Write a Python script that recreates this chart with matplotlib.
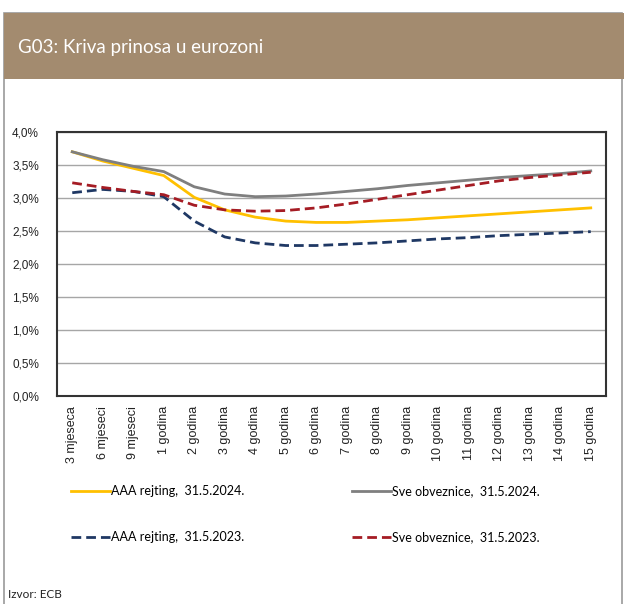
import matplotlib.pyplot as plt
from matplotlib.patches import Rectangle
from matplotlib.ticker import FuncFormatter, MultipleLocator

categories = ['3 mjeseca', '6 mjeseci', '9 mjeseci', '1 godina', '2 godina', '3 godina',
              '4 godina', '5 godina', '6 godina', '7 godina', '8 godina', '9 godina',
              '10 godina', '11 godina', '12 godina', '13 godina', '14 godina', '15 godina']

aaa_2024 = [3.70, 3.56, 3.45, 3.34, 3.01, 2.82, 2.71, 2.65, 2.63, 2.63, 2.65, 2.67,
            2.70, 2.73, 2.76, 2.79, 2.82, 2.85]
sve_2024 = [3.70, 3.58, 3.48, 3.40, 3.17, 3.06, 3.02, 3.03, 3.06, 3.10, 3.14, 3.19,
            3.23, 3.27, 3.31, 3.34, 3.37, 3.41]
aaa_2023 = [3.08, 3.13, 3.10, 3.02, 2.65, 2.41, 2.32, 2.28, 2.28, 2.30, 2.32, 2.35,
            2.38, 2.40, 2.43, 2.45, 2.47, 2.49]
sve_2023 = [3.23, 3.16, 3.10, 3.05, 2.89, 2.82, 2.80, 2.81, 2.85, 2.91, 2.98, 3.05,
            3.12, 3.19, 3.26, 3.31, 3.35, 3.39]

title = 'G03: Kriva prinosa u eurozoni'
source = 'Izvor: ECB'

narrow = ['Lato', 'DejaVu Sans']
plt.rcParams['font.family'] = ['Liberation Sans', 'DejaVu Sans']

fig = plt.figure(figsize=(6.24, 6.04), dpi=100)

# outer frame and header band
fig.patches.append(Rectangle((4 / 624, -0.01), 618 / 624, (604 - 13) / 604 + 0.01,
                             transform=fig.transFigure, facecolor='white',
                             edgecolor='#9a9a9a', lw=1.2, zorder=0))
fig.patches.append(Rectangle((4 / 624, (604 - 79) / 604), 620 / 624, 66 / 604,
                             transform=fig.transFigure, facecolor='#A38B6F',
                             edgecolor='none', zorder=1))
fig.text(18 / 624, 1 - 47 / 604, title, color='white', fontsize=13.5,
         family=narrow, va='center', ha='left')
fig.text(8 / 624, 1 - 594 / 604, source, color='#222222', fontsize=8.5,
         family=narrow, va='center', ha='left')

ax = fig.add_axes([57 / 624, 1 - 396 / 604, 549 / 624, 264 / 604])
ax.set_zorder(3)
x = range(len(categories))
ax.plot(x, aaa_2024, color='#FFC000', lw=2, label='AAA rejting,  31.5.2024.')
ax.plot(x, aaa_2023, color='#1F3864', lw=2, ls=(0, (3.5, 1.8)), label='AAA rejting,  31.5.2023.')
ax.plot(x, sve_2024, color='#7F7F7F', lw=2, label='Sve obveznice,  31.5.2024.')
ax.plot(x, sve_2023, color='#A51C24', lw=2, ls=(0, (3.5, 1.8)), label='Sve obveznice,  31.5.2023.')

ax.set_xlim(-0.5, len(categories) - 0.5)
ax.set_ylim(0, 4)
ax.yaxis.set_major_locator(MultipleLocator(0.5))
ax.yaxis.set_major_formatter(FuncFormatter(lambda v, p: f'{v:.1f}%'.replace('.', ',')))
ax.grid(axis='y', color='#A6A6A6', lw=1)
ax.set_axisbelow(True)
ax.set_xticks(list(x))
ax.set_xticklabels(categories, rotation=90, fontsize=9, color='#222222')
ax.tick_params(axis='both', length=0)
ax.tick_params(axis='y', labelsize=8.5, pad=13, labelcolor='#222222')
ax.tick_params(axis='x', pad=7)
for s in ax.spines.values():
    s.set_color('#333333')
    s.set_linewidth(1.5)

leg = fig.legend(loc='upper left', bbox_to_anchor=(60 / 624, 1 - 474 / 604), ncol=2,
                 frameon=False, prop={'family': narrow, 'size': 9},
                 handlelength=3.1, handletextpad=0.1, labelspacing=2.7, columnspacing=8.6)
leg.set_zorder(4)

fig.savefig('out.png', dpi=100)
